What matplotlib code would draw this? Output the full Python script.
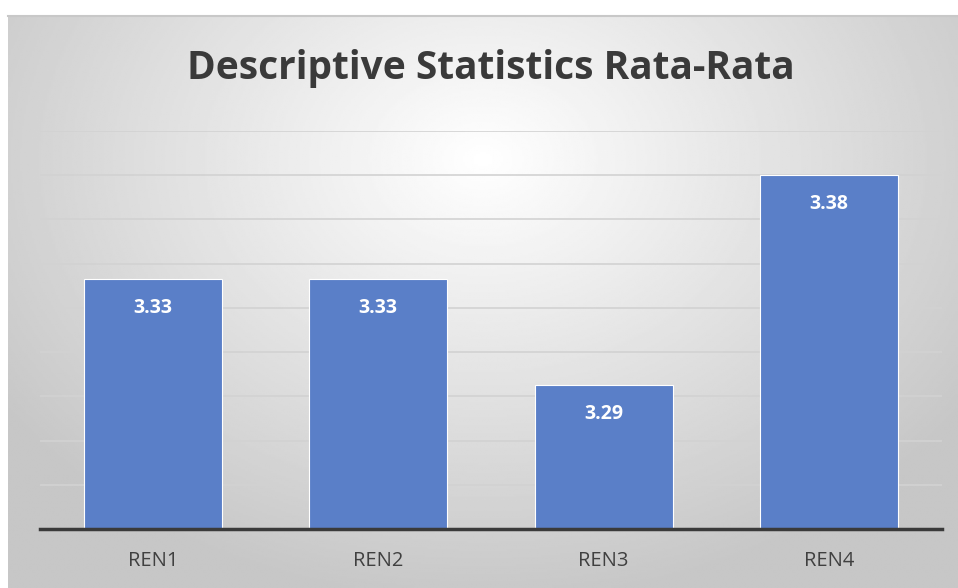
import numpy as np
import matplotlib.pyplot as plt

# data
categories = ['REN1', 'REN2', 'REN3', 'REN4']
values = [3.333, 3.333, 3.285, 3.380]
labels = ['3.33', '3.33', '3.29', '3.38']

plt.rcParams['font.family'] = ['Open Sans', 'DejaVu Sans']

fig = plt.figure(figsize=(9.58, 5.88), dpi=100)
fig.patch.set_facecolor('white')

# chart frame with radial gradient background
bg = fig.add_axes([8 / 958, 0, 950 / 958, 572 / 588])
yy, xx = np.mgrid[0:1:300j, 0:1:500j]
r = np.sqrt(((xx - 0.5) / 0.75) ** 2 + ((yy - 0.25) / 0.95) ** 2)
shade = np.clip(1.0 - 0.27 * r, 0.78, 1.0)
bg.imshow(shade, cmap='gray', vmin=0, vmax=1, aspect='auto', extent=[0, 1, 0, 1])
bg.set_axis_off()
bg.plot([0, 1], [1, 1], color='#c8c8c8', lw=1.5, transform=bg.transAxes, clip_on=False)

ax = fig.add_axes([40 / 958, 59 / 588, 902 / 958, (529 - 131) / 588])
ax.patch.set_alpha(0)

x = np.arange(len(categories))
ax.bar(x, values, width=0.61, color='#5a7fc8', edgecolor='white', linewidth=0.8, zorder=3)
ax.set_ylim(3.22, 3.40)
ax.set_xlim(-0.5, 3.5)
ax.set_yticks(np.arange(3.22, 3.401, 0.02))
ax.yaxis.grid(True, color='#d2d2d2', linewidth=1.2, zorder=0)
ax.tick_params(axis='y', left=False, labelleft=False)
ax.tick_params(axis='x', bottom=False, labelsize=14.5, labelcolor='#404040', pad=12)
ax.set_xticks(x)
ax.set_xticklabels(categories)
for s in ['top', 'right', 'left']:
    ax.spines[s].set_visible(False)
ax.spines['bottom'].set_color('#3a3a3a')
ax.spines['bottom'].set_linewidth(2.5)
ax.spines['bottom'].set_zorder(4)

for xi, v, lab in zip(x, values, labels):
    ax.annotate(lab, (xi, v), xytext=(0, -21), textcoords='offset points',
                ha='center', va='center', color='white', fontsize=14, fontweight='bold', zorder=5)

fig.text(491 / 958, 1 - 68 / 588, 'Descriptive Statistics Rata-Rata', ha='center', va='center',
         fontsize=28, fontweight='bold', color='#3a3a3a')

fig.savefig('out.png', dpi=100)
